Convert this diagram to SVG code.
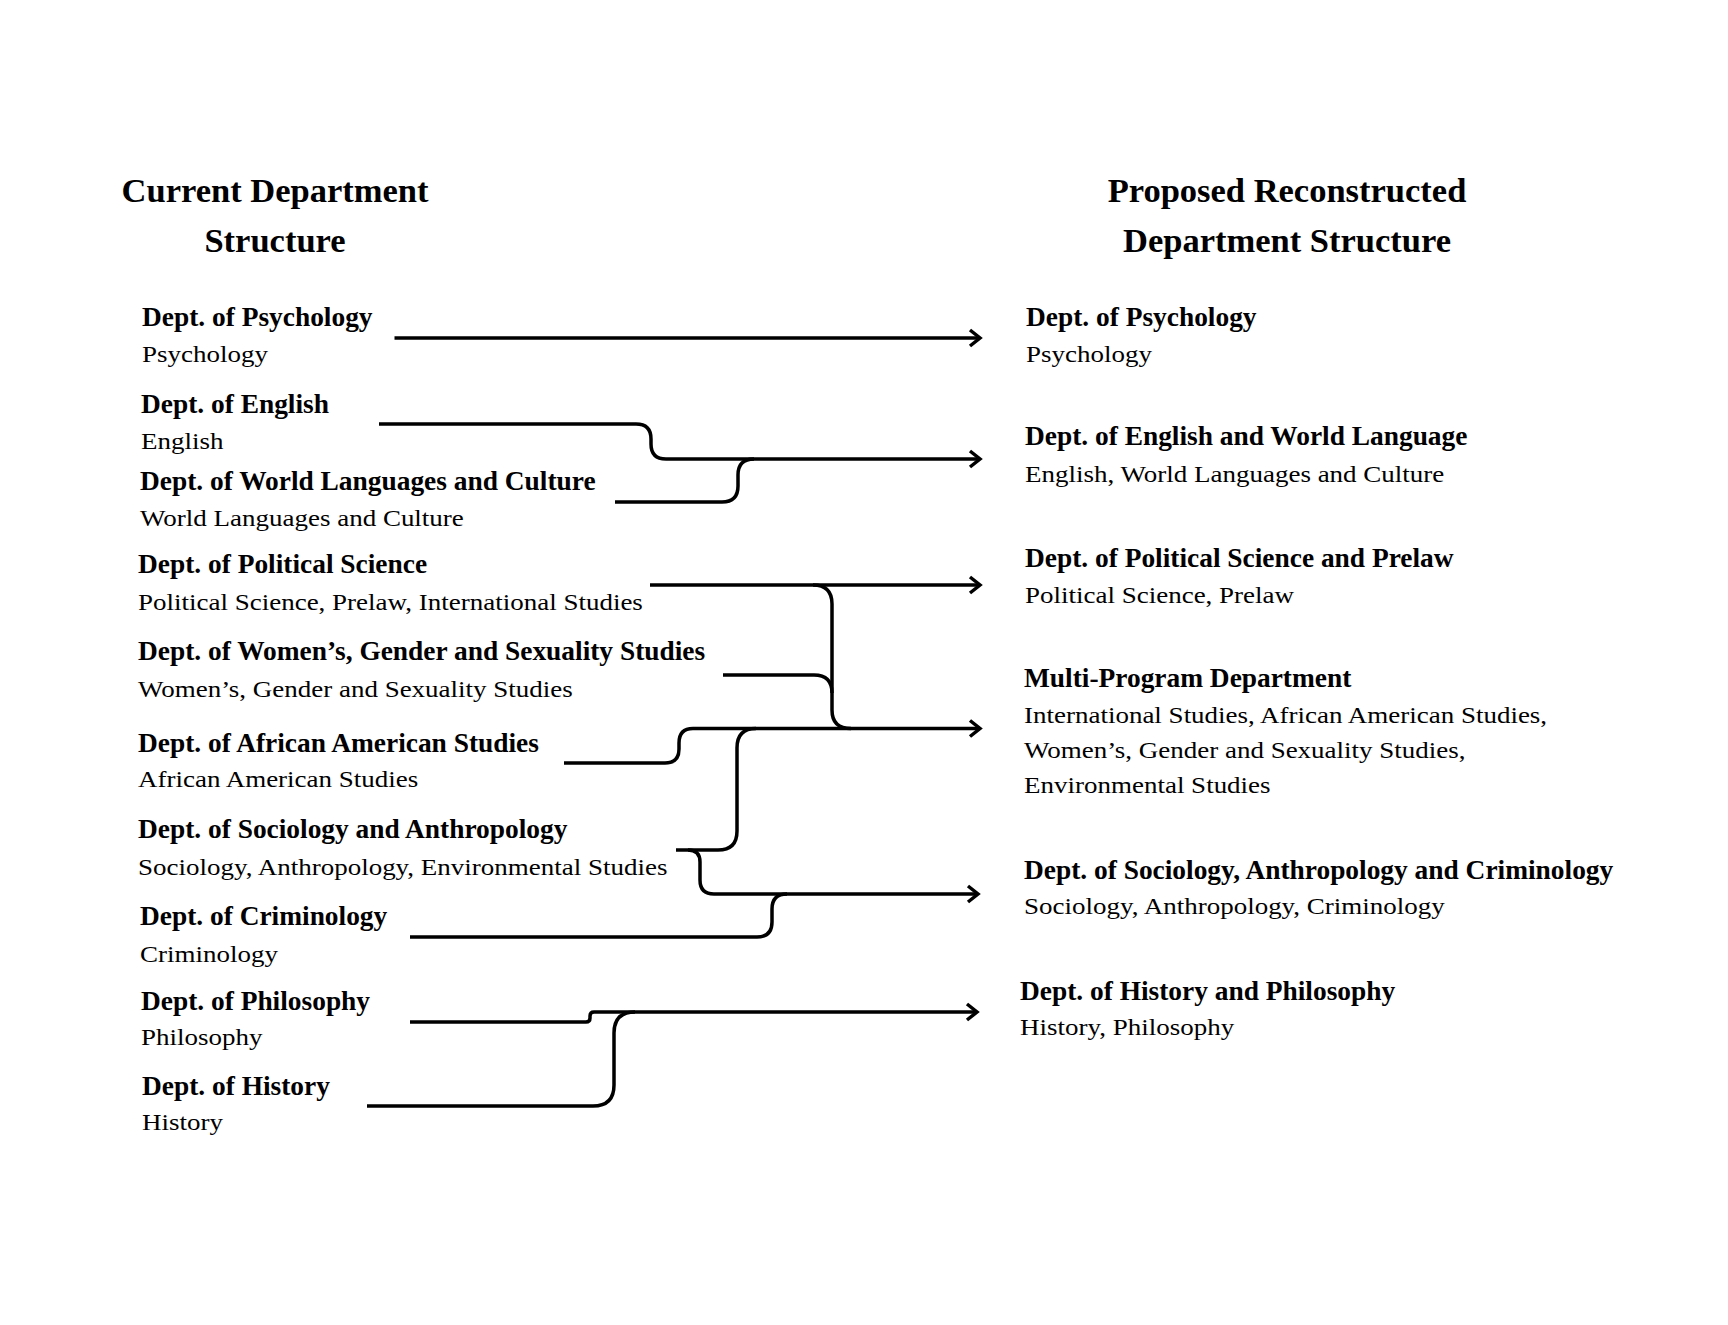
<svg xmlns="http://www.w3.org/2000/svg" width="1728" height="1325" viewBox="0 0 1728 1325">
<style>
.t { font-family: "Liberation Serif", "Times New Roman", serif; font-weight: bold; font-size: 34.5px; fill: #000; text-anchor: middle; }
.b { font-family: "Liberation Serif", "Times New Roman", serif; font-weight: bold; font-size: 27.4px; fill: #000; }
.n { font-family: "Liberation Serif", "Times New Roman", serif; font-size: 24px; fill: #000; }
.c { fill: none; stroke: #000; stroke-width: 3.5; stroke-linecap: butt; stroke-linejoin: round; }
</style>
<defs>
<marker id="arrow" markerUnits="userSpaceOnUse" markerWidth="24" markerHeight="24" viewBox="-14 -12 24 24" refX="0" refY="0" orient="auto" overflow="visible">
<path d="M-10,-8 L0,0 L-10,8" fill="none" stroke="#000" stroke-width="3.5" stroke-linejoin="miter"/>
</marker>
</defs>
<rect width="1728" height="1325" fill="#fff"/>

<g id="title-current">
<text class="t" x="275" y="201.7">Current Department</text>
<text class="t" x="275" y="251.7">Structure</text>
</g>
<g id="title-proposed">
<text class="t" x="1287" y="201.7">Proposed Reconstructed</text>
<text class="t" x="1287" y="251.7">Department Structure</text>
</g>

<g id="cur-psychology">
<text class="b" x="142" y="326">Dept. of Psychology</text>
<text class="n" transform="translate(142 362) scale(1.125 1)">Psychology</text>
</g>
<g id="cur-english">
<text class="b" x="141" y="413">Dept. of English</text>
<text class="n" transform="translate(141 448.5) scale(1.125 1)">English</text>
</g>
<g id="cur-world-languages">
<text class="b" x="140" y="490">Dept. of World Languages and Culture</text>
<text class="n" transform="translate(140 525.5) scale(1.125 1)">World Languages and Culture</text>
</g>
<g id="cur-political-science">
<text class="b" x="138" y="573">Dept. of Political Science</text>
<text class="n" transform="translate(138 610) scale(1.125 1)">Political Science, Prelaw, International Studies</text>
</g>
<g id="cur-wgss">
<text class="b" x="138" y="660">Dept. of Women’s, Gender and Sexuality Studies</text>
<text class="n" transform="translate(138 697) scale(1.125 1)">Women’s, Gender and Sexuality Studies</text>
</g>
<g id="cur-african-american">
<text class="b" x="138" y="752">Dept. of African American Studies</text>
<text class="n" transform="translate(138 787) scale(1.125 1)">African American Studies</text>
</g>
<g id="cur-sociology-anthropology">
<text class="b" x="138" y="838">Dept. of Sociology and Anthropology</text>
<text class="n" transform="translate(138 875) scale(1.125 1)">Sociology, Anthropology, Environmental Studies</text>
</g>
<g id="cur-criminology">
<text class="b" x="140" y="925">Dept. of Criminology</text>
<text class="n" transform="translate(140 962) scale(1.125 1)">Criminology</text>
</g>
<g id="cur-philosophy">
<text class="b" x="141" y="1010">Dept. of Philosophy</text>
<text class="n" transform="translate(141 1045) scale(1.125 1)">Philosophy</text>
</g>
<g id="cur-history">
<text class="b" x="142" y="1095">Dept. of History</text>
<text class="n" transform="translate(142 1130) scale(1.125 1)">History</text>
</g>

<g id="new-psychology">
<text class="b" x="1026" y="326">Dept. of Psychology</text>
<text class="n" transform="translate(1026 362) scale(1.125 1)">Psychology</text>
</g>
<g id="new-english-world-language">
<text class="b" x="1025" y="445">Dept. of English and World Language</text>
<text class="n" transform="translate(1025 481.5) scale(1.125 1)">English, World Languages and Culture</text>
</g>
<g id="new-political-science-prelaw">
<text class="b" x="1025" y="566.5">Dept. of Political Science and Prelaw</text>
<text class="n" transform="translate(1025 602.5) scale(1.125 1)">Political Science, Prelaw</text>
</g>
<g id="new-multi-program">
<text class="b" x="1024" y="687">Multi-Program Department</text>
<text class="n" transform="translate(1024 723) scale(1.125 1)">International Studies, African American Studies,</text>
<text class="n" transform="translate(1024 758) scale(1.125 1)">Women’s, Gender and Sexuality Studies,</text>
<text class="n" transform="translate(1024 793) scale(1.125 1)">Environmental Studies</text>
</g>
<g id="new-soc-anth-crim">
<text class="b" x="1024" y="878.5">Dept. of Sociology, Anthropology and Criminology</text>
<text class="n" transform="translate(1024 913.5) scale(1.125 1)">Sociology, Anthropology, Criminology</text>
</g>
<g id="new-history-philosophy">
<text class="b" x="1020" y="1000">Dept. of History and Philosophy</text>
<text class="n" transform="translate(1020 1035) scale(1.125 1)">History, Philosophy</text>
</g>

<g id="connectors">
<path class="c" d="M394.5,338 H980" marker-end="url(#arrow)"/>
<path class="c" d="M379,424 H636 Q651,424 651,439 V444 Q651,459 666,459 H980" marker-end="url(#arrow)"/>
<path class="c" d="M615,502 H722 Q738,502 738,486 V475 Q738,459 754,459"/>
<path class="c" d="M650,585 H980" marker-end="url(#arrow)"/>
<path class="c" d="M813,585 Q832,585 832,604 V710 Q832,728.5 851,728.5"/>
<path class="c" d="M723,675 H814 Q832,675 832,693"/>
<path class="c" d="M564,763 H665 Q679,763 679,749 V743 Q679,728.5 693,728.5 H980" marker-end="url(#arrow)"/>
<path class="c" d="M676,850 H718 Q737,850 737,831 V748 Q737,728.5 756,728.5"/>
<path class="c" d="M688,850 Q700,850 700,862 V880 Q700,894 714,894 H978" marker-end="url(#arrow)"/>
<path class="c" d="M410,937 H757 Q772,937 772,922 V909 Q772,894 787,894"/>
<path class="c" d="M410,1022 H586 Q590,1022 590,1018 V1016 Q590,1012 594,1012 H977" marker-end="url(#arrow)"/>
<path class="c" d="M367,1106 H593 Q614,1106 614,1085 V1033 Q614,1012 635,1012"/>
</g>
</svg>
